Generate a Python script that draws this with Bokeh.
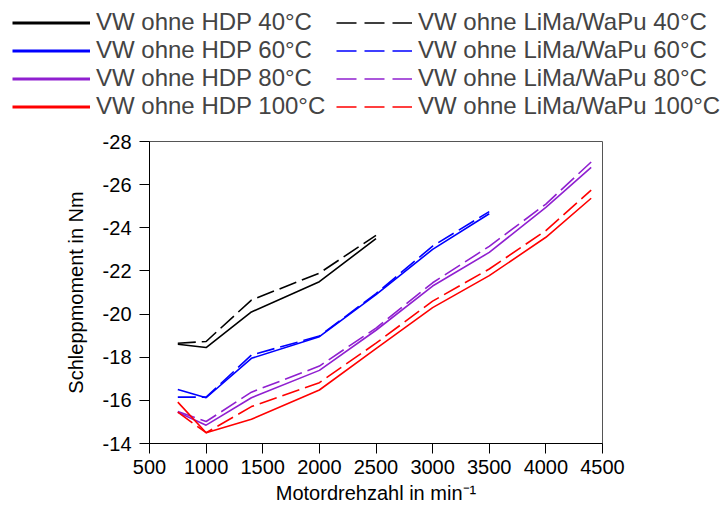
from bokeh.plotting import figure
from bokeh.models import Range1d, FixedTicker, Legend, LegendItem, PrintfTickFormatter
from bokeh.layouts import column, row
from bokeh.embed import file_html
from bokeh.resources import INLINE

# ---- data ----
rpm_40 = [750, 1000, 1400, 2000, 2500]
hdp_40 = [-18.60, -18.45, -20.10, -21.50, -23.50]
lima_40 = [-18.65, -18.73, -20.65, -21.90, -23.65]

rpm_60 = [750, 1000, 1400, 2000, 2500, 3000, 3500]
hdp_60 = [-16.50, -16.12, -17.95, -18.95, -20.90, -23.00, -24.65]
lima_60 = [-16.15, -16.15, -18.10, -18.98, -20.95, -23.15, -24.75]

rpm_80 = [750, 1000, 1400, 2000, 2500, 3000, 3500, 4000, 4400]
hdp_80 = [-15.45, -14.85, -16.12, -17.39, -19.25, -21.30, -22.86, -24.95, -26.80]
lima_80 = [-15.48, -15.02, -16.38, -17.59, -19.35, -21.45, -23.14, -25.10, -27.05]

rpm_100 = [750, 1000, 1400, 2000, 2500, 3000, 3500, 4000, 4400]
hdp_100 = [-15.92, -14.50, -15.12, -16.48, -18.40, -20.30, -21.78, -23.56, -25.37]
lima_100 = [-15.45, -14.50, -15.71, -16.82, -18.65, -20.60, -22.09, -23.87, -25.75]

temps = ["40°C", "60°C", "80°C", "100°C"]
colors = ["#000000", "#0000ff", "#9020d0", "#ff0000"]
x_ticks = [500, 1000, 1500, 2000, 2500, 3000, 3500, 4000, 4500]
y_ticks = [-28, -26, -24, -22, -20, -18, -16, -14]

series = [
    (rpm_40, hdp_40, lima_40),
    (rpm_60, hdp_60, lima_60),
    (rpm_80, hdp_80, lima_80),
    (rpm_100, hdp_100, lima_100),
]

FONT = "Liberation Sans"
LEG_H = 128
TOTAL_W = 724
COL2_X = 336

# ---- main plot ----
p = figure(width=716, height=378, output_backend="svg", toolbar_location=None,
           x_range=Range1d(500, 4500), y_range=Range1d(-14, -28),
           min_border_left=149, min_border_right=114, min_border_top=13,
           min_border_bottom=62)
p.grid.visible = False
p.outline_line_color = "#555555"
p.outline_line_width = 1

for ax in (p.xaxis[0], p.yaxis[0]):
    ax.major_tick_in = 0
    ax.major_tick_out = 10
    ax.minor_tick_line_color = None
    ax.axis_line_color = "black"
    ax.major_tick_line_color = "black"
    ax.major_label_text_font = FONT
    ax.major_label_text_font_size = "20px"
    ax.major_label_text_color = "black"
    ax.axis_label_text_font = FONT
    ax.axis_label_text_font_size = "20px"
    ax.axis_label_text_font_style = "normal"
    ax.axis_label_text_color = "black"

p.xaxis.ticker = FixedTicker(ticks=x_ticks)
p.yaxis.ticker = FixedTicker(ticks=y_ticks)
p.yaxis.formatter = PrintfTickFormatter(format="%d")
p.xaxis.axis_label = "Motordrehzahl in min⁻¹"
p.yaxis.axis_label = "Schleppmoment in Nm"
p.xaxis.major_label_standoff = 6
p.yaxis.major_label_standoff = 8
p.xaxis.axis_label_standoff = 5
p.yaxis.axis_label_standoff = 13

for (rpm, hdp, lima), c in zip(series, colors):
    p.line(rpm, hdp, line_color=c, line_width=1.6)
    p.line(rpm, lima, line_color=c, line_width=1.6, line_dash="18 6")


# ---- legend figures (two columns); their lines use the series data but
# lie outside the legend figure's ranges, so only the legend glyphs show ----
def legend_fig(width, left, prefix, dashed, gw):
    f = figure(width=width, height=LEG_H, output_backend="svg", toolbar_location=None,
               x_range=Range1d(0, 1), y_range=Range1d(0, 1),
               min_border_left=left, min_border_right=0, min_border_top=8,
               min_border_bottom=0)
    f.axis.visible = False
    f.grid.visible = False
    f.outline_line_color = None
    items = []
    for (rpm, hdp, lima), c, t in zip(series, colors, temps):
        if dashed:
            r = f.line(rpm, lima, line_color=c, line_width=1.6, line_dash="20 8")
        else:
            r = f.line(rpm, hdp, line_color=c, line_width=2.8)
        items.append(LegendItem(label=prefix + t, renderers=[r]))
    leg = Legend(items=items, location="top_left", padding=0, margin=0, spacing=0,
                 glyph_width=gw, glyph_height=27, label_standoff=6, label_height=27,
                 label_text_font=FONT, label_text_font_size="24px",
                 border_line_alpha=0, background_fill_alpha=0)
    f.add_layout(leg, "center")
    return f


leg1 = legend_fig(COL2_X, 12, "VW ohne HDP ", False, 78)
leg2 = legend_fig(TOTAL_W - COL2_X, 0, "VW ohne LiMa/WaPu ", True, 76)

layout = column(row(leg1, leg2, spacing=0), p, spacing=0)

open("out.html", "w").write(file_html(layout, INLINE))
